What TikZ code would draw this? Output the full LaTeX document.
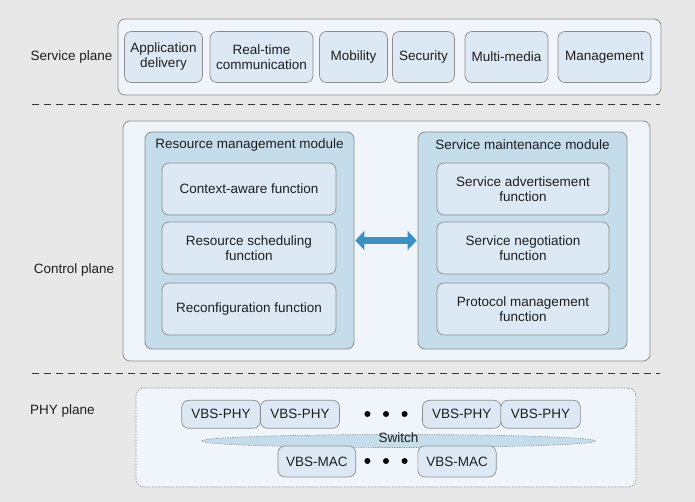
\documentclass[tikz,border=0pt]{standalone}
\usepackage{fontspec}
\setmainfont{Liberation Sans}
\usetikzlibrary{arrows.meta,shapes.geometric}
\definecolor{bg}{RGB}{232,232,232}
\definecolor{panel}{RGB}{240,245,252}
\definecolor{modfill}{RGB}{197,221,235}
\definecolor{boxfill}{RGB}{220,233,244}
\definecolor{edge}{RGB}{140,140,140}
\definecolor{arrowc}{RGB}{62,143,194}
\definecolor{txt}{RGB}{30,30,30}
\tikzset{
  panelbox/.style={draw=edge, fill=panel, rounded corners=7pt, line width=0.8pt},
  modbox/.style={draw=edge, fill=modfill, rounded corners=7pt, line width=0.8pt},
  fbox/.style={draw=edge, fill=boxfill, rounded corners=7pt, line width=0.7pt, align=center, text=txt,
     font=\fontsize{13.5}{15}\selectfont, inner sep=1pt},
  lbl/.style={text=txt, font=\fontsize{13.5}{15}\selectfont},
  sep/.style={draw=black!80, line width=0.7pt, dash pattern=on 7pt off 5pt},
  dot/.style={circle, fill=black, inner sep=0pt, minimum size=6pt},
}
\begin{document}
\begin{tikzpicture}[x=1pt,y=-1pt]
\fill[bg] (0,0) rectangle (695,502);
\useasboundingbox (0,0) rectangle (695,502);

% plane labels
\node[lbl] (lsp) at (71.5,57) {Service plane};
\node[lbl] (lcp) at (74,270) {Control plane};
\node[lbl] (lpp) at (62.5,411) {PHY plane};

% separators
\coordinate (s1a) at (32,104); \coordinate (s1b) at (660,104);
\coordinate (s2a) at (32,373); \coordinate (s2b) at (660,373);
\draw[sep] (s1a) -- (s1b);
\draw[sep] (s2a) -- (s2b);

% service plane
\node[panelbox, minimum width=543pt, minimum height=76pt] (sp) at (389.5,57) {};
\node[fbox, minimum width=78pt, minimum height=51pt] (ad) at (163.5,57) {Application\\delivery};
\node[fbox, minimum width=103pt, minimum height=51pt] (rt) at (261.5,57) {Real-time\\communication};
\node[fbox, minimum width=68pt, minimum height=51pt] (mo) at (353.5,57) {Mobility};
\node[fbox, minimum width=62pt, minimum height=51pt] (se) at (423.5,57) {Security};
\node[fbox, minimum width=83pt, minimum height=51pt] (mm) at (506.5,57) {Multi-media};
\node[fbox, minimum width=93pt, minimum height=51pt] (mg) at (604.5,57) {Management};

% control plane
\node[panelbox, minimum width=527pt, minimum height=240pt] (cp) at (386.5,241) {};
\node[modbox, minimum width=209pt, minimum height=217pt] (rm) at (249.5,240.5) {};
\node[lbl] (rmt) at (249.5,145) {Resource management module};
\node[fbox, minimum width=174pt, minimum height=52pt] (ca) at (249,189) {Context-aware function};
\node[fbox, minimum width=174pt, minimum height=52pt] (rs) at (249,248) {Resource scheduling\\function};
\node[fbox, minimum width=174pt, minimum height=52pt] (rc) at (249,309) {Reconfiguration function};

\node[modbox, minimum width=209pt, minimum height=217pt] (sm) at (522.5,240.5) {};
\node[lbl] (smt) at (522.5,145) {Service maintenance module};
\node[fbox, minimum width=172pt, minimum height=52pt] (sa) at (523,189) {Service advertisement\\function};
\node[fbox, minimum width=172pt, minimum height=52pt] (sn) at (523,248) {Service negotiation\\function};
\node[fbox, minimum width=172pt, minimum height=52pt] (pm) at (523,309) {Protocol management\\function};

\draw[arrowc, line width=7pt, {Triangle[width=19pt,length=9pt]}-{Triangle[width=19pt,length=9pt]}, shorten <=1pt, shorten >=1pt] (rm.east) -- (sm.west);

% PHY plane
\node[draw=edge, fill=panel, rounded corners=8pt, line width=0.7pt, dash pattern=on 1.5pt off 1.5pt, minimum width=500pt, minimum height=99pt] (pp) at (386,437.5) {};
\node[draw=edge, dash pattern=on 1.2pt off 1.2pt, fill=modfill, ellipse, line width=0.6pt, minimum width=394pt, minimum height=13pt, inner sep=0pt] (sw) at (398.5,441) {};
\node[lbl, inner sep=0pt] (swt) at (398.5,438) {Switch};
\node[fbox, minimum width=78.5pt, minimum height=28pt] (p1) at (221,414.3) {VBS-PHY};
\node[fbox, minimum width=79pt, minimum height=28pt] (p2) at (300,414.3) {VBS-PHY};
\node[fbox, minimum width=78.5pt, minimum height=28pt] (p3) at (461.7,414.3) {VBS-PHY};
\node[fbox, minimum width=79.5pt, minimum height=28pt] (p4) at (540.6,414.3) {VBS-PHY};
\node[dot] (d1) at (367.4,414) {};
\node[dot] (d2) at (386,414) {};
\node[dot] (d3) at (404.6,414) {};
\node[fbox, minimum width=77.7pt, minimum height=31pt] (m1) at (316.8,461.4) {VBS-MAC};
\node[fbox, minimum width=78.3pt, minimum height=31pt] (m2) at (457,461.4) {VBS-MAC};
\node[dot] (e1) at (367.4,461) {};
\node[dot] (e2) at (386,461) {};
\node[dot] (e3) at (404.6,461) {};
\end{tikzpicture}
\end{document}
